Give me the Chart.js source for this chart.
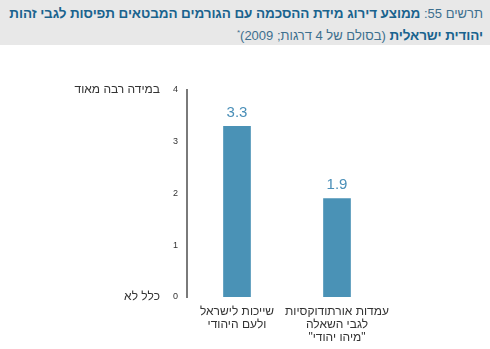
<!DOCTYPE html>
<html lang="he">
<head>
<meta charset="utf-8">
<script src="https://cdn.jsdelivr.net/npm/chart.js@4.4.1/dist/chart.umd.min.js"></script>
<style>
  html,body{margin:0;padding:0;background:#fff;}
  #wrap{position:relative;width:490px;height:349px;overflow:hidden;}
  #hdr{position:absolute;left:0;top:0;width:490px;height:45px;background:#e8e8e8;}
  #title{position:absolute;right:7px;top:4px;width:484px;direction:rtl;text-align:right;white-space:nowrap;
    font-family:"Liberation Sans",Arial,sans-serif;font-size:13px;line-height:19px;color:#1f6690;}
  #title b{font-weight:bold;color:#1a638e;font-size:13.5px;letter-spacing:-0.1px;}
  #title .n{color:#3d6f8e;}
  #title sup{font-size:8px;}
  canvas{position:absolute;left:0;top:0;}
</style>
</head>
<body>
<div id="wrap">
  <div id="hdr"></div>
  <div id="title"><span class="n">תרשים 55: </span><b>ממוצע דירוג מידת ההסכמה עם הגורמים המבטאים תפיסות לגבי זהות</b><br><b>יהודית ישראלית</b><span class="n"> (בסולם של 4 דרגות; 2009)<sup>*</sup></span></div>
  <canvas id="c" width="490" height="349"></canvas>
</div>
<script>
const categories = [
  ["שייכות לישראל", "ולעם היהודי"],
  ["עמדות אורתודוקסיות", "לגבי השאלה", "\"מיהו יהודי\""]
];
const values = [3.3, 1.9];
const valueLabels = ["3.3", "1.9"];
const yTicks = [0, 1, 2, 3, 4];
const scaleEndLabels = [{value: 4, text: "במידה רבה מאוד"}, {value: 0, text: "כלל לא"}];

const BAR = "#4a92b6";

const extras = {
  id: "extras",
  afterDatasetsDraw(chart) {
    const ctx = chart.ctx;
    const meta = chart.getDatasetMeta(0);
    ctx.save();
    ctx.font = "15px 'Liberation Sans', Arial, sans-serif";
    ctx.fillStyle = "#4a8fb8";
    ctx.textAlign = "center";
    ctx.textBaseline = "bottom";
    meta.data.forEach((bar, i) => {
      ctx.fillText(valueLabels[i], bar.x, bar.y - 6);
    });
    const y = chart.scales.y;
    ctx.font = "12px 'Liberation Sans', Arial, sans-serif";
    ctx.fillStyle = "#333";
    ctx.textAlign = "right";
    ctx.textBaseline = "middle";
    scaleEndLabels.forEach(l => {
      ctx.fillText(l.text, 160, y.getPixelForValue(l.value));
    });
    ctx.restore();
  }
};

new Chart(document.getElementById("c"), {
  type: "bar",
  data: {
    labels: categories,
    datasets: [{
      data: values,
      backgroundColor: BAR,
      barThickness: 27
    }]
  },
  options: {
    responsive: false,
    animation: false,
    events: [],
    layout: {padding: {top: 90, right: 103, bottom: 0, left: 0}},
    plugins: {legend: {display: false}, tooltip: {enabled: false}, title: {display: false}},
    scales: {
      x: {
        grid: {display: false},
        border: {display: false},
        ticks: {
          color: "#333",
          font: {family: "'Liberation Sans', Arial, sans-serif", size: 12, lineHeight: 1.1},
          padding: 0,
          maxRotation: 0,
          autoSkip: false
        },
        afterFit(s) { s.height = 52; }
      },
      y: {
        min: 0, max: 4,
        afterBuildTicks(s) { s.ticks = yTicks.map(v => ({value: v})); },
        grid: {display: false},
        border: {display: true, color: "#7a7a7a", width: 2},
        ticks: {
          color: "#333",
          font: {family: "'Liberation Sans', Arial, sans-serif", size: 9},
          padding: 1
        },
        afterFit(s) { s.width = 187; }
      }
    }
  },
  plugins: [extras]
});
</script>
</body>
</html>
